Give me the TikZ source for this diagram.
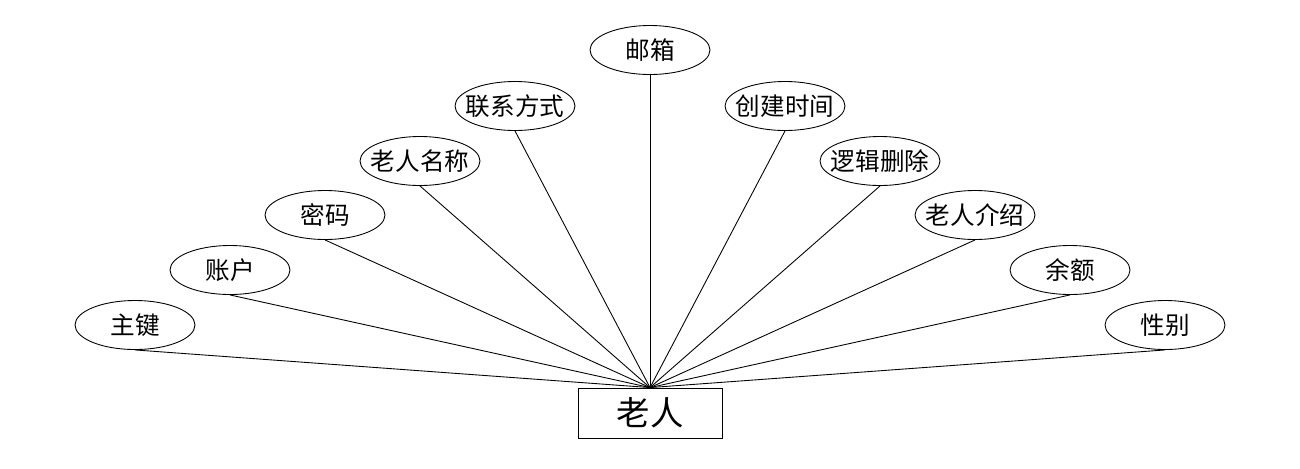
\documentclass[tikz,border=0pt]{standalone}
\usepackage{fontspec}
\setmainfont{Noto Sans CJK SC}
\usepackage{tikz}
\usetikzlibrary{positioning,shapes.geometric}

\begin{document}
\begin{tikzpicture}[
    x=0.02cm, y=-0.02cm,
    attr/.style   = {draw, ellipse, line width=0.5pt, minimum width=2.4cm,
                     minimum height=0.98cm, inner xsep=-5pt, inner ysep=0pt,
                     font=\fontsize{14}{16}\selectfont},
    entity/.style = {draw, line width=0.5pt, minimum width=2.88cm,
                     minimum height=1cm, inner sep=0pt, font=\fontsize{19}{22}\selectfont},
    link/.style   = {line width=0.5pt},
]
\useasboundingbox (0,0) rectangle (1300,468);

% --- entity ---
\node[entity] (elder) at (650,413) {老人};

% --- attributes, left side ---
\node[attr] (pk)      at (135,325) {主键};
\node[attr] (account) at (230,270) {账户};
\node[attr] (pwd)     at (325,215) {密码};
\node[attr] (name)    at (420,161) {老人名称};
\node[attr] (contact) at (515,106) {联系方式};

% --- top ---
\node[attr] (email)   at (650,50)  {邮箱};

% --- attributes, right side ---
\node[attr] (created) at (785,106)  {创建时间};
\node[attr] (deleted) at (880,161)  {逻辑删除};
\node[attr] (intro)   at (975,215)  {老人介绍};
\node[attr] (balance) at (1070,270) {余额};
\node[attr] (gender)  at (1165,325) {性别};

% --- links ---
\draw[link] (pk.south)      -- (elder.north);
\draw[link] (account.south) -- (elder.north);
\draw[link] (pwd.south)     -- (elder.north);
\draw[link] (name.south)    -- (elder.north);
\draw[link] (contact.south) -- (elder.north);
\draw[link] (email.south)   -- (elder.north);
\draw[link] (created.south) -- (elder.north);
\draw[link] (deleted.south) -- (elder.north);
\draw[link] (intro.south)   -- (elder.north);
\draw[link] (balance.south) -- (elder.north);
\draw[link] (gender.south)  -- (elder.north);

\end{tikzpicture}
\end{document}
